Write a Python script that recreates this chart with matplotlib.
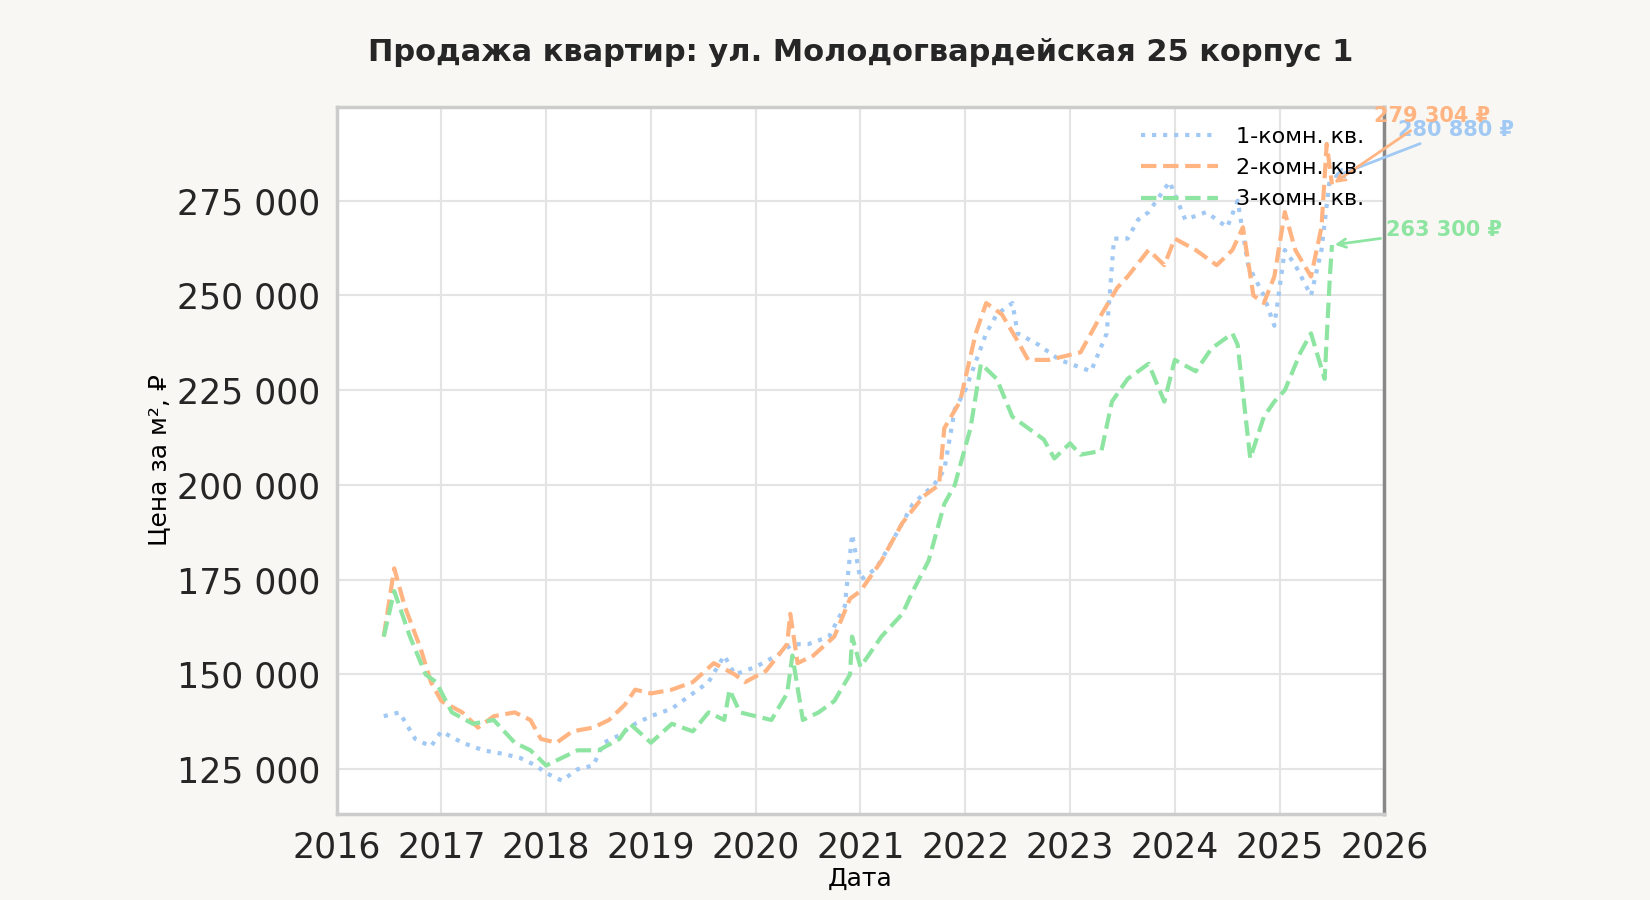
import matplotlib
matplotlib.use("Agg")
import matplotlib.pyplot as plt
from matplotlib.ticker import FuncFormatter

t1 = [2016.45, 2016.6, 2016.75, 2016.9, 2017.0, 2017.2, 2017.4, 2017.6, 2017.75, 2017.9, 2018.0, 2018.15,
      2018.3, 2018.45, 2018.55, 2018.7, 2018.85, 2019.0, 2019.2, 2019.4, 2019.55, 2019.7, 2019.8, 2020.0,
      2020.2, 2020.35, 2020.5, 2020.7, 2020.85, 2020.92, 2021.0, 2021.15, 2021.3, 2021.5, 2021.7, 2021.8,
      2021.9, 2022.0, 2022.2, 2022.3, 2022.45, 2022.5, 2022.7, 2022.9, 2023.0, 2023.2, 2023.35, 2023.42,
      2023.55, 2023.65, 2023.75, 2023.95, 2024.1, 2024.3, 2024.5, 2024.6, 2024.7, 2024.85, 2024.95,
      2025.05, 2025.15, 2025.3, 2025.4, 2025.48]
p1 = [139, 140, 133, 131, 135, 132, 130, 129, 128, 126, 124, 122,
      125, 126, 132, 134, 137, 139, 141, 145, 148, 155, 150, 152,
      155, 158, 158, 160, 168, 187, 175, 178, 185, 195, 200, 204,
      220, 225, 240, 245, 248, 240, 237, 233, 232, 230, 240, 265,
      265, 270, 272, 280, 270, 272, 268, 275, 258, 250, 242,
      262, 258, 250, 262, 280.88]

t2 = [2016.45, 2016.55, 2016.65, 2016.8, 2016.9, 2017.0, 2017.2, 2017.35, 2017.5, 2017.7, 2017.85, 2017.95,
      2018.1, 2018.25, 2018.45, 2018.6, 2018.75, 2018.85, 2019.0, 2019.2, 2019.4, 2019.6, 2019.8, 2019.9,
      2020.1, 2020.3, 2020.33, 2020.4, 2020.55, 2020.75, 2020.9, 2021.0, 2021.2, 2021.4, 2021.6, 2021.75,
      2021.8, 2021.95, 2022.1, 2022.2, 2022.35, 2022.5, 2022.6, 2022.8, 2022.95, 2023.1, 2023.3, 2023.45,
      2023.55, 2023.75, 2023.9, 2024.0, 2024.2, 2024.4, 2024.55, 2024.65, 2024.75, 2024.85, 2024.95,
      2025.05, 2025.15, 2025.3, 2025.4, 2025.45, 2025.5]
p2 = [160, 178, 168, 157, 148, 143, 140, 136, 139, 140, 138, 133,
      132, 135, 136, 138, 142, 146, 145, 146, 148, 153, 150, 148,
      151, 158, 166, 153, 155, 160, 170, 172, 180, 190, 197, 200,
      215, 222, 240, 248, 245, 238, 233, 233, 234, 235, 245, 252,
      255, 262, 258, 265, 262, 258, 262, 268, 250, 248, 255,
      272, 262, 255, 268, 290, 279.304]

t3 = [2016.45, 2016.55, 2016.7, 2016.85, 2016.95, 2017.1, 2017.3, 2017.5, 2017.7, 2017.85, 2018.0, 2018.15,
      2018.3, 2018.5, 2018.7, 2018.8, 2019.0, 2019.2, 2019.4, 2019.55, 2019.7, 2019.75, 2019.85, 2020.0,
      2020.15, 2020.3, 2020.35, 2020.45, 2020.6, 2020.75, 2020.9, 2020.92, 2021.0, 2021.2, 2021.4, 2021.5,
      2021.65, 2021.8, 2021.9, 2022.05, 2022.15, 2022.3, 2022.45, 2022.6, 2022.75, 2022.85, 2023.0, 2023.1,
      2023.3, 2023.4, 2023.55, 2023.75, 2023.9, 2024.0, 2024.2, 2024.35, 2024.55, 2024.6, 2024.72, 2024.85,
      2024.95, 2025.05, 2025.2, 2025.3, 2025.43, 2025.48, 2025.5]
p3 = [160, 172, 160, 150, 148, 140, 137, 138, 132, 130, 126, 128,
      130, 130, 133, 137, 132, 137, 135, 140, 138, 146, 140, 139,
      138, 145, 155, 138, 140, 143, 150, 160, 152, 160, 166, 172,
      180, 195, 200, 215, 232, 228, 218, 215, 212, 207, 211, 208,
      209, 222, 228, 232, 222, 233, 230, 236, 240, 237, 207, 218,
      222, 225, 235, 240, 228, 255, 263.3]

labels = ["1-комн. кв.", "2-комн. кв.", "3-комн. кв."]
colors = ["#a1c9f4", "#ffb482", "#8de5a1"]
styles = [":", "--", "--"]
last_labels = ["280 880 ₽", "279 304 ₽", "263 300 ₽"]

fig = plt.figure(figsize=(16.5, 9), dpi=100, facecolor="#f8f7f3")
ax = fig.add_axes([0.204, 0.096, 0.635, 0.785])
ax.set_facecolor("white")

series = [(t1, p1), (t2, p2), (t3, p3)]
for (t, p), lab, c, ls in zip(series, labels, colors, styles):
    ax.plot(t, [v * 1000 for v in p], linestyle=ls, color=c, lw=3, label=lab)

ax.set_xlim(2016, 2026)
ax.set_ylim(113300, 299700)
ax.set_xticks(range(2016, 2027))
ax.set_yticks(range(125000, 276000, 25000))
ax.yaxis.set_major_formatter(FuncFormatter(lambda v, _: f"{int(v):,}".replace(",", " ")))
ax.tick_params(labelsize=25, length=0, pad=12, colors="#262626")
ax.grid(color="#e4e4e4", lw=1.5)
for s in ["top", "left", "bottom"]:
    ax.spines[s].set_color("#cccccc")
    ax.spines[s].set_linewidth(2.5)
ax.spines["right"].set_color("#888888")
ax.spines["right"].set_linewidth(2.5)

ax.set_title("Продажа квартир: ул. Молодогвардейская 25 корпус 1",
             fontsize=22, fontweight="bold", color="#262626", pad=33)
ax.set_xlabel("Дата", fontsize=18, labelpad=2)
ax.set_ylabel("Цена за м², ₽", fontsize=18)

offsets = [(49, 35), (30, 49), (39, 11)]
for (t, p), c, txt, off in zip(series, colors, last_labels, offsets):
    ax.annotate(txt, xy=(t[-1], p[-1] * 1000), xytext=off, textcoords="offset points",
                color=c, fontsize=15, fontweight="bold", va="center",
                arrowprops=dict(arrowstyle="->", color=c, lw=2))

ax.legend(loc="upper right", frameon=False, fontsize=16, handlelength=3.5)
fig.savefig("out.png", facecolor=fig.get_facecolor())
